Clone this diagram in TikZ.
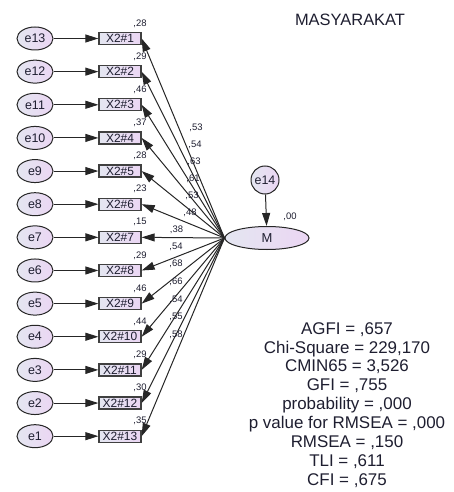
\documentclass[tikz,border=0pt]{standalone}
\usepackage{fontspec}
\setmainfont{Liberation Sans}
\usetikzlibrary{arrows.meta,shapes.geometric}
\definecolor{shadeL}{HTML}{E4E6F1}
\definecolor{shadeR}{HTML}{EBD6F3}
\definecolor{ink}{HTML}{1E1E30}
\tikzset{
  errvar/.style={ellipse, draw=black!85, line width=1bp, left color=shadeL, right color=shadeR,
    minimum width=36bp, minimum height=23bp, inner sep=0pt, font=\fontsize{12.5}{12.5}\selectfont, text=ink},
  obsbox/.style={rectangle, draw=black!75, line width=1.3bp, left color=shadeL, right color=shadeR,
    minimum width=42bp, minimum height=12bp, inner sep=0pt, font=\fontsize{12}{12}\selectfont, text=ink},
  latentvar/.style={ellipse, draw=black!85, line width=1bp, left color=shadeL, right color=shadeR,
    minimum width=84bp, minimum height=23bp, inner sep=0pt, font=\fontsize{13}{13}\selectfont, text=ink},
  resid/.style={circle, draw=black!85, line width=1bp, left color=shadeL, right color=shadeR,
    minimum size=28bp, inner sep=0pt, font=\fontsize{12.5}{12.5}\selectfont, text=ink},
  pathline/.style={-{Triangle[length=13bp,width=8bp]}, line width=1bp, draw=black!85},
  coef/.style={font=\fontsize{9.5}{9.5}\selectfont, text=ink, inner sep=0pt},
}
\begin{document}
\begin{tikzpicture}[x=1bp,y=-1bp]
\useasboundingbox (0,0) rectangle (454,492);

% observed indicators, their error terms and squared multiple correlations
\foreach \i/\r in {1/28,2/29,3/46,4/37,5/28,6/23,7/15,8/29,9/46,10/44,11/29,12/30,13/35}{
  \pgfmathsetmacro{\yy}{38.5+33.14*(\i-1)}
  \pgfmathtruncatemacro{\ee}{14-\i}
  \node[obsbox] (b\i) at (120,\yy) {X2\#\i};
  \node[errvar] (e\ee) at (35,\yy) {e\ee};
  \draw[pathline] (e\ee) -- (b\i);
  \node[coef] (r\i) at (140,\yy-15) {,\r};
}

% latent factor and its residual
\node[latentvar] (M) at (267,238) {M};
\node[resid] (e14) at (265,180) {e14};
\draw[pathline] (e14) -- (M);
\node[coef] (rM) at (290,217) {,00};

% factor loadings
\foreach \i in {1,...,13}{
  \draw[pathline] (M.west) -- (b\i.east);
}
\node[coef] (l1) at (196,128) {,53};
\node[coef] (l2) at (195,145) {,54};
\node[coef] (l3) at (194,162) {,63};
\node[coef] (l4) at (193,179) {,61};
\node[coef] (l5) at (192,196) {,53};
\node[coef] (l6) at (190,212.5) {,48};
\node[coef] (l7) at (176.5,229.5) {,38};
\node[coef] (l8) at (176,246.5) {,54};
\node[coef] (l9) at (176,264) {,68};
\node[coef] (l10) at (176,282) {,66};
\node[coef] (l11) at (176,299.5) {,54};
\node[coef] (l12) at (176,317) {,55};
\node[coef] (l13) at (176,335) {,58};

% title and fit indices
\node[font=\fontsize{16.5}{16.5}\selectfont, text=ink] (title) at (350,20) {MASYARAKAT};
\node[align=center, font=\fontsize{17}{19}\selectfont, text=ink] (fit) at (347,405)
  {AGFI = ,657\\Chi-Square = 229,170\\CMIN65 = 3,526\\GFI = ,755\\probability = ,000\\p value for RMSEA = ,000\\RMSEA = ,150\\TLI = ,611\\CFI = ,675};
\end{tikzpicture}
\end{document}
